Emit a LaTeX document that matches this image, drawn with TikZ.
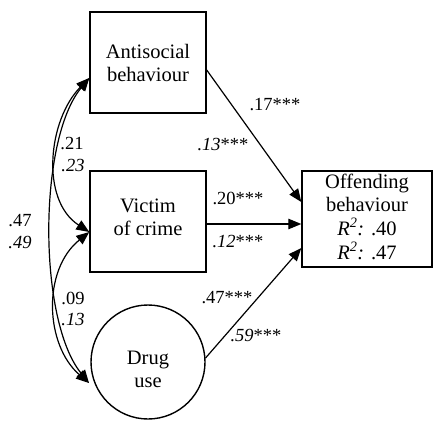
\documentclass[tikz,border=0pt]{standalone}
\usepackage{fontspec}
\setmainfont{Liberation Serif}
\usetikzlibrary{arrows.meta,calc}
\begin{document}
\begin{tikzpicture}[x=1pt,y=-1pt,
  box/.style={draw,line width=1.4pt,inner sep=0pt,align=center,font=\fontsize{20.5}{23}\selectfont},
  lbl/.style={inner sep=0pt,font=\fontsize{18.5}{20}\selectfont},
  arr/.style={line width=1.2pt,-{Triangle[length=13pt,width=10.5pt]}},
  dbl/.style={line width=1.2pt,{Triangle[length=13pt,width=10.5pt]}-{Triangle[length=13pt,width=10.5pt]}}]
\useasboundingbox (0,0) rectangle (433,420);
\node[box,minimum width=116pt,minimum height=101pt] (anti) at (148,62.5) {Antisocial\\behaviour};
\node[box,minimum width=116pt,minimum height=101pt] (vict) at (148,221.5) {\raisebox{2.5pt}[\height][\depth]{\begin{tabular}{@{}c@{}}Victim\\of crime\end{tabular}}};
\node[box,circle,minimum size=114pt] (drug) at (148,362) {\raisebox{-9pt}[\height][\depth]{\begin{tabular}{@{}c@{}}Drug\\use\end{tabular}}};
\node[box,minimum width=130pt,minimum height=96pt] (off) at (367,219) {\begin{tabular}{@{}c@{}}Offending\\behaviour\\\textit{R}\textsuperscript{\textit{2}}\textit{:} .40\\\textit{R}\textsuperscript{\textit{2}}\textit{:} .47\end{tabular}};
% paths to outcome
\draw[arr] ([yshift=-7.5pt]anti.east) -- ([yshift=17pt]off.west);
\draw[arr] ([yshift=-2.5pt]vict.east) -- ([yshift=-5pt]off.west);
\draw[arr] (drug.4) -- ([yshift=-29pt]off.west);
% correlations
\coordinate (pa) at ([yshift=-15.5pt]anti.west);
\coordinate (pv) at ([yshift=-10.5pt]vict.west);
\coordinate (pd) at (89,383);
\draw[dbl] (pa) .. controls (48,120) and (40,200) .. (pv);
\draw[dbl] (pa) .. controls (38,140) and (38,320) .. (pd);
\draw[dbl] (pv) .. controls (42,270) and (45,345) .. (pd);
% labels
\node[lbl] (l1) at (275,105) {.17***};
\node[lbl] (l2) at (223,145) {\textit{.13}***};
\node[lbl] (l3) at (238,198) {.20***};
\node[lbl] (l4) at (238,242) {\textit{.12}***};
\node[lbl] (l5) at (227,298) {.47***};
\node[lbl] (l6) at (256,336) {\textit{.59}***};
\node[lbl] (c1) at (72,144) {.21};
\node[lbl] (c2) at (73,166) {\textit{.23}};
\node[lbl] (c3) at (20,221) {.47};
\node[lbl] (c4) at (20,243) {\textit{.49}};
\node[lbl] (c5) at (73,298) {.09};
\node[lbl] (c6) at (73,320) {\textit{.13}};
\end{tikzpicture}
\end{document}
